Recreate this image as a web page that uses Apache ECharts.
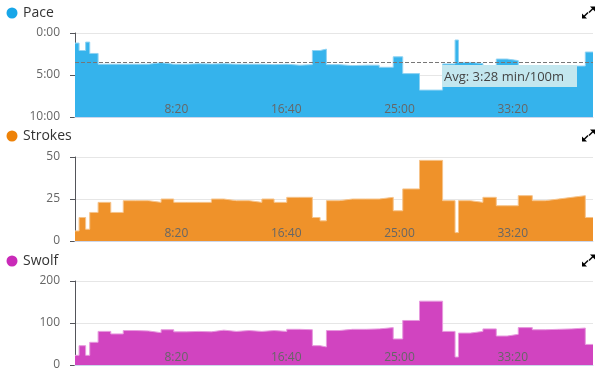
<!DOCTYPE html>
<html lang="en" style="height: 100%">
<head>
  <meta charset="utf-8" />
  <title>Swim lengths</title>
</head>
<body style="height: 100%; margin: 0; background: #fff">
  <div id="container" style="width: 602px; height: 376px"></div>

  <script src="https://cdn.jsdelivr.net/npm/echarts@6/dist/echarts.min.js"></script>

  <script>
    // start time (s) of each 25m length
    const lengthStart = [0, 18, 47, 65, 102, 158, 213, 269, 325, 380, 436, 492, 546, 602, 657,
      713, 769, 825, 879, 935, 991, 1048, 1082, 1110, 1166, 1225, 1284, 1343, 1405, 1447, 1521,
      1623, 1678, 1693, 1745, 1801, 1860, 1908, 1957, 2019, 2076, 2135, 2194, 2253];
    const workoutEnd = 2287;

    // pace in seconds per 100m
    const pace = [72, 125, 65, 146, 223, 223, 223, 223, 212, 223, 223, 220, 222, 220, 223,
      223, 223, 226, 223, 230, 226, 125, 115, 226, 233, 230, 230, 245, 170, 290, 408,
      221, 50, 210, 218, 233, 186, 197, 247, 235, 236, 236, 236, 136];

    const strokes = [6, 14, 7, 17, 23, 17, 24, 24, 23, 25, 23, 23, 23, 25, 24,
      24, 23, 25, 23, 26, 26, 14, 12, 24, 25, 25, 25, 26, 18, 31, 48,
      24, 5, 24, 23, 26, 21, 21, 27, 24, 25, 26, 27, 14];

    const swolf = [23, 46, 23, 54, 80, 74, 82, 81, 77, 84, 79, 80, 79, 83, 80,
      82, 80, 82, 80, 85, 84, 46, 43, 82, 85, 85, 86, 89, 62, 106, 152,
      80, 19, 76, 80, 86, 69, 73, 89, 84, 85, 86, 88, 49];

    const avgPace = 208; // 3:28
    const timeTicks = ['8:20', '16:40', '25:00', '33:20'];

    function mmss(v) {
      const m = Math.floor(v / 60);
      const s = Math.round(v % 60);
      return m + ':' + (s < 10 ? '0' + s : s);
    }

    // each length -> one step, plus a closing point at the end
    function stepData(values) {
      const pts = [];
      for (let i = 0; i < values.length; i++) {
        pts.push([lengthStart[i], values[i]]);
      }
      pts.push([workoutEnd, values[values.length - 1]]);
      return pts;
    }

    const font = '"Open Sans", "DejaVu Sans", sans-serif';
    const panels = [
      { name: 'Pace', top: 33, color: '#35b3ec', edge: '#8fd3f3', dot: '#18a6e8', titleY: 13 },
      { name: 'Strokes', top: 157, color: '#ef922a', edge: '#f6c48c', dot: '#ee8208', titleY: 136 },
      { name: 'Swolf', top: 281, color: '#d144c0', edge: '#e79ade', dot: '#c92ab8', titleY: 261 }
    ];

    const grids = [], xAxes = [], yAxes = [], graphics = [];
    panels.forEach(function (p, i) {
      grids.push({ left: 75, right: 9, top: p.top, height: 84 });
      xAxes.push({
        type: 'value', gridIndex: i, min: 0, max: workoutEnd, interval: 500,
        z: 10, // labels sit on top of the area
        axisLine: { onZero: false, lineStyle: { color: '#ccd6eb' } },
        axisTick: { show: false },
        splitLine: { show: false },
        axisLabel: {
          inside: true, align: 'right', margin: 1,
          showMinLabel: false, showMaxLabel: false,
          color: '#666', fontSize: 12, fontFamily: font,
          formatter: function (v) { return v > 0 && v <= 2000 ? timeTicks[v / 500 - 1] : ''; }
        }
      });

      // legend-like title with coloured dot
      graphics.push({ type: 'circle', shape: { cx: 12, cy: p.titleY, r: 5.5 }, style: { fill: p.dot } });
      graphics.push({
        type: 'text', x: 23, y: p.titleY,
        style: { text: p.name, fill: '#333', font: '14px ' + font, verticalAlign: 'middle' }
      });
      // expand icon
      const cy = p.titleY - 0.5;
      graphics.push({ type: 'polygon', shape: { points: [[590, cy - 6], [595, cy - 6], [595, cy - 1]] }, style: { fill: '#000' } });
      graphics.push({ type: 'line', shape: { x1: 589, y1: cy, x2: 593, y2: cy - 4 }, style: { stroke: '#000', lineWidth: 1.5 } });
      graphics.push({ type: 'polygon', shape: { points: [[582, cy + 1], [582, cy + 6], [587, cy + 6]] }, style: { fill: '#000' } });
      graphics.push({ type: 'line', shape: { x1: 584, y1: cy + 4, x2: 588, y2: cy }, style: { stroke: '#000', lineWidth: 1.5 } });
    });

    const yLabel = { color: '#666', fontSize: 12, fontFamily: font, margin: 15 };
    const ySplit = { lineStyle: { color: '#e6e6e6' } };
    yAxes.push({
      type: 'value', gridIndex: 0, inverse: true, min: 0, max: 600, interval: 300,
      axisLabel: Object.assign({ formatter: mmss }, yLabel), splitLine: ySplit
    });
    yAxes.push({
      type: 'value', gridIndex: 1, min: 0, max: 50, interval: 25,
      axisLabel: yLabel, splitLine: ySplit
    });
    yAxes.push({
      type: 'value', gridIndex: 2, min: 0, max: 200, interval: 100,
      axisLabel: yLabel, splitLine: ySplit
    });

    function stepSeries(i, values, extra) {
      const p = panels[i];
      return Object.assign({
        type: 'line', step: 'end', xAxisIndex: i, yAxisIndex: i,
        data: stepData(values), showSymbol: false, animation: false,
        lineStyle: { color: p.edge, width: 1 },
        itemStyle: { color: p.color },
        areaStyle: { color: p.color, opacity: 1 }
      }, extra || {});
    }

    // average pace label box
    graphics.push({ type: 'rect', shape: { x: 442, y: 65, width: 135, height: 22 }, style: { fill: '#c3e7ef' }, z: 100 });
    graphics.push({
      type: 'text', x: 444, y: 77, z: 101,
      style: { text: 'Avg: ' + mmss(avgPace) + ' min/100m', fill: '#444', font: '13px ' + font, verticalAlign: 'middle' }
    });

    var dom = document.getElementById('container');
    var myChart = echarts.init(dom);

    var option = {
      animation: false,
      grid: grids,
      xAxis: xAxes,
      yAxis: yAxes,
      graphic: graphics,
      series: [
        stepSeries(0, pace, {
          areaStyle: { color: panels[0].color, opacity: 1, origin: 'end' },
          markLine: {
            silent: true, symbol: 'none',
            lineStyle: { color: '#777', type: 'dashed', width: 1 },
            label: { show: false },
            data: [{ yAxis: avgPace }]
          }
        }),
        stepSeries(1, strokes),
        stepSeries(2, swolf)
      ]
    };

    myChart.setOption(option);
  </script>
</body>
</html>
